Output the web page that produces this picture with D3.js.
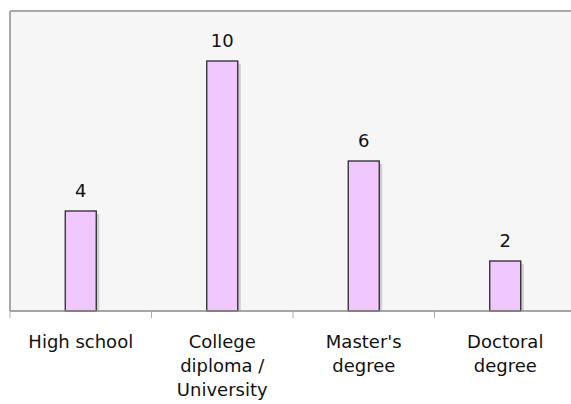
<!DOCTYPE html>
<html><head><meta charset="utf-8">
<script src="https://cdn.jsdelivr.net/npm/d3@7"></script>
<style>body{margin:0;background:#fff}svg{display:block}</style>
</head><body><svg id="c" width="571" height="404"></svg>
<script>
const categories = [["High school"], ["College", "diploma /", "University"], ["Master's", "degree"], ["Doctoral", "degree"]];
const values = [4, 10, 6, 2];
const yMax = 12;

(function () {
const svg = d3.select("#c");
const mLeft = 10, mTop = 11, mBottom = 311, mRight = 576;
const x = d3.scaleBand().domain(d3.range(categories.length)).range([mLeft, mRight]);
const y = d3.scaleLinear().domain([0, yMax]).range([mBottom, mTop]);
const bw = 31;
const font = "DejaVu Sans";

svg.append("rect").attr("x", mLeft).attr("y", mTop).attr("width", mRight - mLeft).attr("height", mBottom - mTop)
  .attr("fill", "#f6f6f6");
svg.append("line").attr("x1", mLeft).attr("x2", mRight).attr("y1", mTop).attr("y2", mTop).attr("stroke", "#a8a8a8").attr("stroke-width", 2);
svg.append("line").attr("x1", mLeft).attr("x2", mLeft).attr("y1", mTop).attr("y2", mBottom).attr("stroke", "#a8a8a8").attr("stroke-width", 2);

const g = svg.append("g");
values.forEach((v, i) => {
  const cx = x(i) + x.bandwidth() / 2;
  g.append("rect").attr("x", cx - bw / 2 + 3).attr("y", y(v) + 3).attr("width", bw).attr("height", mBottom - y(v) - 3)
    .attr("fill", "#cfcfcf");
  g.append("rect").attr("x", cx - bw / 2).attr("y", y(v)).attr("width", bw).attr("height", mBottom - y(v))
    .attr("fill", "#f0c8ff").attr("stroke", "#2a2a2a").attr("stroke-width", 1.3);
  g.append("text").attr("x", cx).attr("y", y(v) - 14).attr("text-anchor", "middle")
    .attr("font-family", font).attr("font-size", 18).attr("fill", "#111").text(v);
});

svg.append("line").attr("x1", mLeft).attr("x2", mRight).attr("y1", mBottom).attr("y2", mBottom).attr("stroke", "#888").attr("stroke-width", 1.5);
d3.range(categories.length + 1).forEach(i => {
  const tx = i < categories.length ? x(i) : mRight;
  svg.append("line").attr("x1", tx).attr("x2", tx).attr("y1", mBottom).attr("y2", mBottom + 7).attr("stroke", "#aaa");
});
categories.forEach((lines, i) => {
  const cx = x(i) + x.bandwidth() / 2;
  const t = svg.append("text").attr("text-anchor", "middle").attr("font-family", font).attr("font-size", 18).attr("fill", "#111");
  lines.forEach((l, k) => t.append("tspan").attr("x", cx).attr("y", 348 + k * 24).text(l));
});
})();
</script></body></html>
